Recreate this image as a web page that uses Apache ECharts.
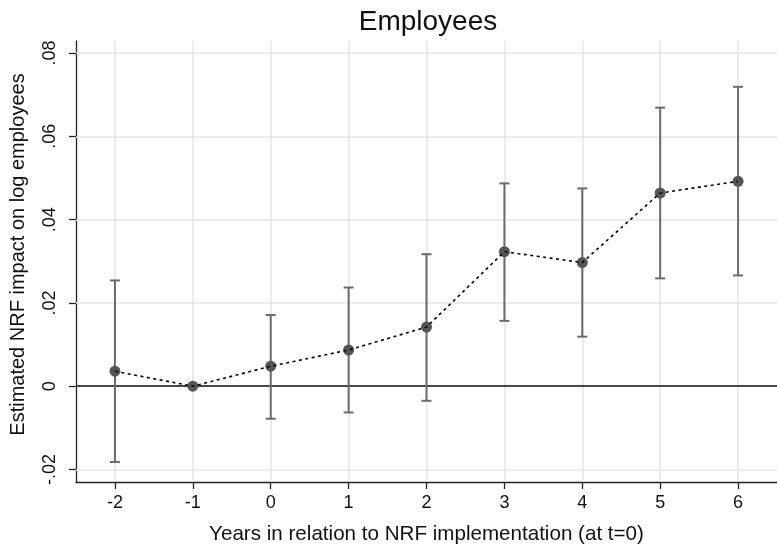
<!DOCTYPE html>
<html>
<head>
<meta charset="utf-8">
<title>Employees</title>
<script src="https://cdn.jsdelivr.net/npm/echarts@6/dist/echarts.min.js"></script>
<style>
  html, body { margin: 0; padding: 0; background: #ffffff; }
  #chart { width: 777px; height: 550px; }
</style>
</head>
<body>
<div id="chart"></div>
<script>
// Event-study estimates: years relative to implementation (t = 0)
const years = [-2, -1, 0, 1, 2, 3, 4, 5, 6];
const estimates = [0.0036, 0, 0.0048, 0.0087, 0.0142, 0.0323, 0.0297, 0.0464, 0.0492];
// 95% confidence bounds; t = -1 is the reference year (no interval)
const ciLower = [-0.0182, null, -0.0078, -0.0063, -0.0035, 0.0157, 0.0119, 0.0259, 0.0266];
const ciUpper = [0.0254, null, 0.0171, 0.0237, 0.0317, 0.0487, 0.0475, 0.0669, 0.0719];
// Axis ticks
const xTicks = [-2, -1, 0, 1, 2, 3, 4, 5, 6];
const yTicks = [-0.02, 0, 0.02, 0.04, 0.06, 0.08];

const FONT = '"Liberation Sans", Arial, Helvetica, sans-serif';
const GRID_COLOR = '#e6e6e6';

function fmtY(v) {
  if (Math.abs(v) < 1e-12) return '0';
  const s = Math.abs(v).toFixed(2).replace(/^0/, '');
  return (v < 0 ? '-' : '') + s;
}

const pointData = years.map((x, i) => [x, estimates[i]]);
const ciData = years
  .map((x, i) => [x, ciLower[i], ciUpper[i]])
  .filter(d => d[1] !== null && d[2] !== null);

const chart = echarts.init(document.getElementById('chart'), null, { renderer: 'canvas' });

chart.setOption({
  animation: false,
  backgroundColor: '#ffffff',
  title: {
    text: 'Employees',
    left: 423,
    top: 3,
    textAlign: 'center',
    textStyle: { fontFamily: FONT, fontSize: 28, fontWeight: 'normal', color: '#111' }
  },
  grid: { left: 74, right: -2, top: 41, bottom: 63, containLabel: false },
  xAxis: {
    type: 'value',
    min: -2.5,
    max: 6.5,
    name: 'Years in relation to NRF implementation (at t=0)',
    nameLocation: 'middle',
    nameGap: 42,
    nameTextStyle: { fontFamily: FONT, fontSize: 20.6, color: '#111' },
    axisLine: { show: true, onZero: false, lineStyle: { color: '#222', width: 1.3 } },
    axisTick: { show: true, length: 7, customValues: xTicks, lineStyle: { color: '#222', width: 1.3 } },
    axisLabel: {
      customValues: xTicks,
      margin: 12,
      fontFamily: FONT, fontSize: 18, color: '#111'
    },
    splitLine: { show: false }
  },
  yAxis: {
    type: 'value',
    min: -0.023,
    max: 0.0829,
    name: 'Estimated NRF impact on log employees',
    nameLocation: 'middle',
    nameGap: 48,
    nameTextStyle: { fontFamily: FONT, fontSize: 20, color: '#111', padding: [0, 0, 0, 14] },
    axisLine: { show: true, onZero: false, lineStyle: { color: '#222', width: 1.3 } },
    axisTick: { show: true, length: 7, customValues: yTicks, lineStyle: { color: '#222', width: 1.3 } },
    axisLabel: {
      customValues: yTicks,
      rotate: 90,
      margin: 17,
      formatter: fmtY,
      fontFamily: FONT, fontSize: 18, color: '#111'
    },
    splitLine: { show: false }
  },
  series: [
    {
      // light reference grid at every tick
      name: 'grid',
      type: 'line',
      data: [],
      z: 1,
      silent: true,
      markLine: {
        z: 1,
        silent: true,
        symbol: 'none',
        label: { show: false },
        animation: false,
        lineStyle: { color: GRID_COLOR, width: 1.6, type: 'solid' },
        data: xTicks.map(v => ({ xAxis: v })).concat(yTicks.map(v => ({ yAxis: v })))
      }
    },
    {
      // zero reference line
      name: 'zero',
      type: 'line',
      data: [],
      z: 2,
      silent: true,
      markLine: {
        z: 2,
        silent: true,
        symbol: 'none',
        label: { show: false },
        animation: false,
        lineStyle: { color: '#111', width: 1.5, type: 'solid' },
        data: [{ yAxis: 0 }]
      }
    },
    {
      name: '95% CI',
      type: 'custom',
      z: 3,
      data: ciData,
      renderItem: function (params, api) {
        const x = api.value(0);
        const lo = api.coord([x, api.value(1)]);
        const hi = api.coord([x, api.value(2)]);
        const cap = 5;
        const style = { stroke: '#6b6b6b', lineWidth: 2, fill: null };
        return {
          type: 'group',
          children: [
            { type: 'line', shape: { x1: lo[0], y1: lo[1], x2: hi[0], y2: hi[1] }, style: style },
            { type: 'line', shape: { x1: lo[0] - cap, y1: lo[1], x2: lo[0] + cap, y2: lo[1] }, style: style },
            { type: 'line', shape: { x1: hi[0] - cap, y1: hi[1], x2: hi[0] + cap, y2: hi[1] }, style: style }
          ]
        };
      }
    },
    {
      name: 'Estimate',
      type: 'scatter',
      z: 4,
      data: pointData,
      symbol: 'circle',
      symbolSize: 11,
      itemStyle: { color: '#555555', opacity: 1 }
    },
    {
      name: 'Estimate path',
      type: 'line',
      z: 5,
      data: pointData,
      showSymbol: false,
      symbol: 'none',
      lineStyle: { color: '#000000', width: 1.6, type: [3, 3.5] }
    }
  ]
});
</script>
</body>
</html>
